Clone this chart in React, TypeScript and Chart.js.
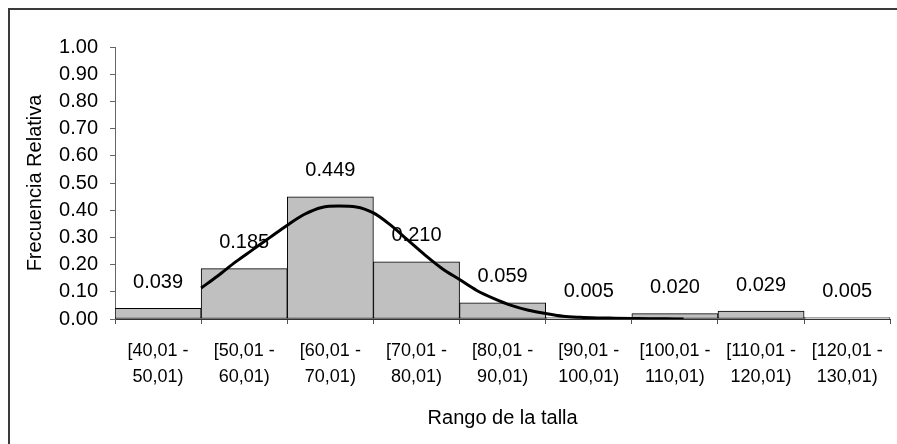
import React, { useEffect, useRef } from "react";
import { Chart, registerables } from "chart.js";

Chart.register(...registerables);

const categories: string[][] = [
  ["[40,01 -", "50,01)"],
  ["[50,01 -", "60,01)"],
  ["[60,01 -", "70,01)"],
  ["[70,01 -", "80,01)"],
  ["[80,01 -", "90,01)"],
  ["[90,01 -", "100,01)"],
  ["[100,01 -", "110,01)"],
  ["[110,01 -", "120,01)"],
  ["[120,01 -", "130,01)"],
];
const relFreq: number[] = [0.039, 0.185, 0.449, 0.21, 0.059, 0.005, 0.02, 0.029, 0.005];
const barLabels: string[] = ["0.039", "0.185", "0.449", "0.210", "0.059", "0.005", "0.020", "0.029", "0.005"];

const curveX: number[] = [50, 52, 54, 56, 58, 60, 62, 64, 66, 68, 70, 72, 74, 76, 78, 80, 82, 84, 86, 88, 90, 92, 94, 96, 98, 100, 102, 104, 106];
const curveY: number[] = [0.114, 0.16, 0.21, 0.255, 0.3, 0.345, 0.385, 0.41, 0.415, 0.412, 0.39, 0.345, 0.29, 0.235, 0.185, 0.145, 0.105, 0.075, 0.05, 0.032, 0.02, 0.01, 0.006, 0.004, 0.003, 0.002, 0.001, 0.0005, 0];

const rangeMin = 40;
const rangeMax = 130;
const FONT = "'Liberation Sans', Arial, sans-serif";

export default function App() {
  const ref = useRef<HTMLCanvasElement | null>(null);

  useEffect(() => {
    if (!ref.current) return;

    const framePlugin = {
      id: "frame",
      beforeDraw(chart: any) {
        const ctx = chart.ctx;
        ctx.save();
        ctx.fillStyle = "#ffffff";
        ctx.fillRect(0, 0, chart.width, chart.height);
        ctx.strokeStyle = "#3a3a3a";
        ctx.lineWidth = 2;
        ctx.beginPath();
        ctx.moveTo(9, chart.height + 2);
        ctx.lineTo(9, 9);
        ctx.lineTo(chart.width + 2, 9);
        ctx.stroke();
        ctx.restore();
      },
    };

    const labelPlugin = {
      id: "barLabels",
      afterDatasetDraw(chart: any, args: any) {
        if (args.index !== 0) return;
        const ctx = chart.ctx;
        const meta = chart.getDatasetMeta(0);
        ctx.save();
        ctx.font = `20px ${FONT}`;
        ctx.fillStyle = "#000";
        ctx.textAlign = "center";
        ctx.textBaseline = "middle";
        meta.data.forEach((el: any, i: number) => {
          ctx.fillText(barLabels[i], el.x, el.y - 26);
        });
        ctx.restore();
      },
    };

    const chart = new Chart(ref.current, {
      type: "bar",
      data: {
        labels: categories,
        datasets: [
          {
            type: "bar",
            data: relFreq,
            backgroundColor: "#C0C0C0",
            borderColor: "#000000",
            borderWidth: 1,
            borderSkipped: false,
            grouped: false,
            barPercentage: 1,
            categoryPercentage: 1,
            order: 2,
            xAxisID: "x",
            yAxisID: "y",
          } as any,
          {
            type: "line",
            data: curveX.map((x, i) => ({ x, y: curveY[i] })),
            borderColor: "#000000",
            borderWidth: 3,
            pointRadius: 0,
            cubicInterpolationMode: "monotone",
            fill: false,
            order: 1,
            xAxisID: "x2",
            yAxisID: "y",
          } as any,
        ],
      },
      options: {
        animation: false,
        responsive: false,
        maintainAspectRatio: false,
        layout: { padding: { left: 0, right: 5, top: 47, bottom: 0 } },
        plugins: {
          legend: { display: false },
          tooltip: { enabled: false },
          title: { display: false },
        },
        scales: {
          x: {
            type: "category",
            position: "bottom",
            offset: true,
            grid: {
              display: true,
              offset: true,
              drawOnChartArea: false,
              drawTicks: true,
              tickLength: 5,
              color: "#555",
            },
            border: { display: true, color: "#333", width: 1 },
            ticks: {
              color: "#000",
              font: { family: FONT, size: 18, lineHeight: 1.45 },
              padding: 14,
              maxRotation: 0,
              minRotation: 0,
              autoSkip: false,
            },
            title: {
              display: true,
              text: "Rango de la talla",
              color: "#000",
              font: { family: FONT, size: 20 },
              padding: { top: 0, bottom: 14 },
            },
            afterFit(scale: any) {
              scale.height = 125;
            },
          },
          x2: {
            type: "linear",
            position: "bottom",
            min: rangeMin,
            max: rangeMax,
            offset: false,
            grid: { offset: false },
            display: false,
          },
          y: {
            type: "linear",
            position: "left",
            min: 0,
            max: 1,
            grid: {
              display: true,
              drawOnChartArea: false,
              drawTicks: true,
              tickLength: 5,
              color: "#666",
            },
            border: { display: true, color: "#666", width: 1 },
            ticks: {
              stepSize: 0.1,
              color: "#000",
              font: { family: FONT, size: 20 },
              padding: 12,
              callback: (v: any) => Number(v).toFixed(2),
            },
            title: {
              display: true,
              text: "Frecuencia Relativa",
              color: "#000",
              font: { family: FONT, size: 20 },
              padding: { top: 23, bottom: 0 },
            },
            afterFit(scale: any) {
              scale.width = 115;
            },
          },
        },
      } as any,
      plugins: [framePlugin, labelPlugin],
    });

    return () => chart.destroy();
  }, []);

  return (
    <div style={{ position: "fixed", left: 0, top: 0, width: 897, height: 444, background: "#fff" }}>
      <canvas ref={ref} width={897} height={444} style={{ width: 897, height: 444, display: "block" }} />
    </div>
  );
}
